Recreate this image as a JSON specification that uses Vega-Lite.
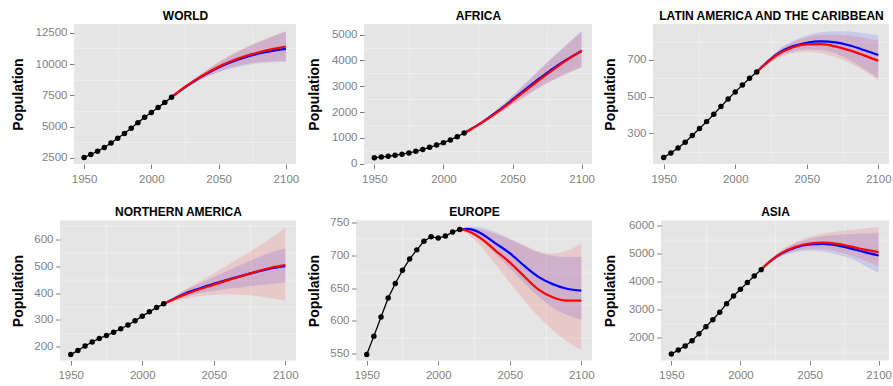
{
"$schema": "https://vega.github.io/schema/vega-lite/v6.json",
"background": "white",
"padding": {"left": 2, "top": 9, "right": 0, "bottom": 0},
"datasets": {
"obs": [
{"r":"WORLD","year":1950,"pop":2525},{"r":"WORLD","year":1955,"pop":2758},{"r":"WORLD","year":1960,"pop":3018},{"r":"WORLD","year":1965,"pop":3322},{"r":"WORLD","year":1970,"pop":3682},{"r":"WORLD","year":1975,"pop":4061},{"r":"WORLD","year":1980,"pop":4439},{"r":"WORLD","year":1985,"pop":4852},{"r":"WORLD","year":1990,"pop":5310},{"r":"WORLD","year":1995,"pop":5735},{"r":"WORLD","year":2000,"pop":6127},{"r":"WORLD","year":2005,"pop":6520},{"r":"WORLD","year":2010,"pop":6930},{"r":"WORLD","year":2015,"pop":7349},
{"r":"AFRICA","year":1950,"pop":229},{"r":"AFRICA","year":1955,"pop":254},{"r":"AFRICA","year":1960,"pop":285},{"r":"AFRICA","year":1965,"pop":322},{"r":"AFRICA","year":1970,"pop":366},{"r":"AFRICA","year":1975,"pop":416},{"r":"AFRICA","year":1980,"pop":478},{"r":"AFRICA","year":1985,"pop":550},{"r":"AFRICA","year":1990,"pop":632},{"r":"AFRICA","year":1995,"pop":720},{"r":"AFRICA","year":2000,"pop":814},{"r":"AFRICA","year":2005,"pop":920},{"r":"AFRICA","year":2010,"pop":1044},{"r":"AFRICA","year":2015,"pop":1186},
{"r":"LATIN","year":1950,"pop":169},{"r":"LATIN","year":1955,"pop":193},{"r":"LATIN","year":1960,"pop":220},{"r":"LATIN","year":1965,"pop":252},{"r":"LATIN","year":1970,"pop":288},{"r":"LATIN","year":1975,"pop":326},{"r":"LATIN","year":1980,"pop":364},{"r":"LATIN","year":1985,"pop":404},{"r":"LATIN","year":1990,"pop":446},{"r":"LATIN","year":1995,"pop":487},{"r":"LATIN","year":2000,"pop":526},{"r":"LATIN","year":2005,"pop":563},{"r":"LATIN","year":2010,"pop":600},{"r":"LATIN","year":2015,"pop":634},
{"r":"NA","year":1950,"pop":171},{"r":"NA","year":1955,"pop":186},{"r":"NA","year":1960,"pop":203},{"r":"NA","year":1965,"pop":218},{"r":"NA","year":1970,"pop":231},{"r":"NA","year":1975,"pop":242},{"r":"NA","year":1980,"pop":254},{"r":"NA","year":1985,"pop":267},{"r":"NA","year":1990,"pop":281},{"r":"NA","year":1995,"pop":297},{"r":"NA","year":2000,"pop":314},{"r":"NA","year":2005,"pop":330},{"r":"NA","year":2010,"pop":346},{"r":"NA","year":2015,"pop":360},
{"r":"EUROPE","year":1950,"pop":549},{"r":"EUROPE","year":1955,"pop":577},{"r":"EUROPE","year":1960,"pop":606},{"r":"EUROPE","year":1965,"pop":635},{"r":"EUROPE","year":1970,"pop":657},{"r":"EUROPE","year":1975,"pop":677},{"r":"EUROPE","year":1980,"pop":694},{"r":"EUROPE","year":1985,"pop":708},{"r":"EUROPE","year":1990,"pop":721},{"r":"EUROPE","year":1995,"pop":728},{"r":"EUROPE","year":2000,"pop":726},{"r":"EUROPE","year":2005,"pop":729},{"r":"EUROPE","year":2010,"pop":735},{"r":"EUROPE","year":2015,"pop":739},
{"r":"ASIA","year":1950,"pop":1394},{"r":"ASIA","year":1955,"pop":1542},{"r":"ASIA","year":1960,"pop":1687},{"r":"ASIA","year":1965,"pop":1874},{"r":"ASIA","year":1970,"pop":2120},{"r":"ASIA","year":1975,"pop":2378},{"r":"ASIA","year":1980,"pop":2626},{"r":"ASIA","year":1985,"pop":2897},{"r":"ASIA","year":1990,"pop":3202},{"r":"ASIA","year":1995,"pop":3475},{"r":"ASIA","year":2000,"pop":3714},{"r":"ASIA","year":2005,"pop":3955},{"r":"ASIA","year":2010,"pop":4190},{"r":"ASIA","year":2015,"pop":4420}
],
"proj": [
{"r":"WORLD","model":"B","year":2015,"med":7349,"lo":7349,"hi":7349},{"r":"WORLD","model":"B","year":2020,"med":7758,"lo":7715,"hi":7800},{"r":"WORLD","model":"B","year":2025,"med":8142,"lo":8055,"hi":8230},{"r":"WORLD","model":"B","year":2030,"med":8501,"lo":8365,"hi":8640},{"r":"WORLD","model":"B","year":2040,"med":9157,"lo":8900,"hi":9410},{"r":"WORLD","model":"B","year":2050,"med":9725,"lo":9335,"hi":10110},{"r":"WORLD","model":"B","year":2060,"med":10184,"lo":9670,"hi":10730},{"r":"WORLD","model":"B","year":2070,"med":10548,"lo":9905,"hi":11270},{"r":"WORLD","model":"B","year":2080,"med":10837,"lo":10055,"hi":11750},{"r":"WORLD","model":"B","year":2090,"med":11055,"lo":10140,"hi":12180},{"r":"WORLD","model":"B","year":2100,"med":11213,"lo":10170,"hi":12600},
{"r":"AFRICA","model":"B","year":2015,"med":1186,"lo":1186,"hi":1186},{"r":"AFRICA","model":"B","year":2020,"med":1340,"lo":1322,"hi":1358},{"r":"AFRICA","model":"B","year":2025,"med":1504,"lo":1470,"hi":1540},{"r":"AFRICA","model":"B","year":2030,"med":1679,"lo":1625,"hi":1735},{"r":"AFRICA","model":"B","year":2040,"med":2062,"lo":1960,"hi":2165},{"r":"AFRICA","model":"B","year":2050,"med":2478,"lo":2310,"hi":2645},{"r":"AFRICA","model":"B","year":2060,"med":2906,"lo":2655,"hi":3160},{"r":"AFRICA","model":"B","year":2070,"med":3322,"lo":2980,"hi":3680},{"r":"AFRICA","model":"B","year":2080,"med":3715,"lo":3270,"hi":4185},{"r":"AFRICA","model":"B","year":2090,"med":4060,"lo":3520,"hi":4670},{"r":"AFRICA","model":"B","year":2100,"med":4370,"lo":3745,"hi":5140},
{"r":"LATIN","model":"B","year":2015,"med":634,"lo":634,"hi":634},{"r":"LATIN","model":"B","year":2020,"med":672,"lo":664,"hi":680},{"r":"LATIN","model":"B","year":2025,"med":706,"lo":692,"hi":720},{"r":"LATIN","model":"B","year":2030,"med":735,"lo":716,"hi":754},{"r":"LATIN","model":"B","year":2040,"med":774,"lo":745,"hi":803},{"r":"LATIN","model":"B","year":2050,"med":794,"lo":757,"hi":834},{"r":"LATIN","model":"B","year":2060,"med":801,"lo":754,"hi":851},{"r":"LATIN","model":"B","year":2070,"med":796,"lo":735,"hi":857},{"r":"LATIN","model":"B","year":2080,"med":779,"lo":700,"hi":855},{"r":"LATIN","model":"B","year":2090,"med":754,"lo":652,"hi":846},{"r":"LATIN","model":"B","year":2100,"med":727,"lo":600,"hi":834},
{"r":"NA","model":"B","year":2015,"med":360,"lo":360,"hi":360},{"r":"NA","model":"B","year":2020,"med":373,"lo":369,"hi":377},{"r":"NA","model":"B","year":2025,"med":386,"lo":378,"hi":394},{"r":"NA","model":"B","year":2030,"med":398,"lo":386,"hi":410},{"r":"NA","model":"B","year":2040,"med":417,"lo":399,"hi":435},{"r":"NA","model":"B","year":2050,"med":434,"lo":408,"hi":460},{"r":"NA","model":"B","year":2060,"med":450,"lo":416,"hi":484},{"r":"NA","model":"B","year":2070,"med":465,"lo":422,"hi":508},{"r":"NA","model":"B","year":2080,"med":479,"lo":428,"hi":530},{"r":"NA","model":"B","year":2090,"med":492,"lo":434,"hi":552},{"r":"NA","model":"B","year":2100,"med":500,"lo":440,"hi":566},
{"r":"EUROPE","model":"B","year":2015,"med":739,"lo":739,"hi":739},{"r":"EUROPE","model":"B","year":2020,"med":740,"lo":737,"hi":742},{"r":"EUROPE","model":"B","year":2025,"med":738,"lo":731,"hi":743},{"r":"EUROPE","model":"B","year":2030,"med":733,"lo":723,"hi":742},{"r":"EUROPE","model":"B","year":2040,"med":718,"lo":702,"hi":735},{"r":"EUROPE","model":"B","year":2050,"med":703,"lo":680,"hi":725},{"r":"EUROPE","model":"B","year":2060,"med":684,"lo":658,"hi":714},{"r":"EUROPE","model":"B","year":2070,"med":667,"lo":637,"hi":704},{"r":"EUROPE","model":"B","year":2080,"med":656,"lo":620,"hi":699},{"r":"EUROPE","model":"B","year":2090,"med":649,"lo":609,"hi":697},{"r":"EUROPE","model":"B","year":2100,"med":646,"lo":602,"hi":697},
{"r":"ASIA","model":"B","year":2015,"med":4420,"lo":4420,"hi":4420},{"r":"ASIA","model":"B","year":2020,"med":4655,"lo":4625,"hi":4685},{"r":"ASIA","model":"B","year":2025,"med":4850,"lo":4780,"hi":4915},{"r":"ASIA","model":"B","year":2030,"med":5005,"lo":4900,"hi":5100},{"r":"ASIA","model":"B","year":2040,"med":5215,"lo":5050,"hi":5365},{"r":"ASIA","model":"B","year":2050,"med":5320,"lo":5100,"hi":5525},{"r":"ASIA","model":"B","year":2060,"med":5340,"lo":5070,"hi":5620},{"r":"ASIA","model":"B","year":2070,"med":5285,"lo":4965,"hi":5670},{"r":"ASIA","model":"B","year":2080,"med":5175,"lo":4815,"hi":5695},{"r":"ASIA","model":"B","year":2090,"med":5045,"lo":4560,"hi":5715},{"r":"ASIA","model":"B","year":2100,"med":4925,"lo":4295,"hi":5735},
{"r":"WORLD","model":"A","year":2015,"med":7349,"lo":7349,"hi":7349},{"r":"WORLD","model":"A","year":2020,"med":7765,"lo":7720,"hi":7810},{"r":"WORLD","model":"A","year":2025,"med":8160,"lo":8070,"hi":8250},{"r":"WORLD","model":"A","year":2030,"med":8530,"lo":8390,"hi":8670},{"r":"WORLD","model":"A","year":2040,"med":9205,"lo":8940,"hi":9460},{"r":"WORLD","model":"A","year":2050,"med":9780,"lo":9390,"hi":10180},{"r":"WORLD","model":"A","year":2060,"med":10255,"lo":9740,"hi":10800},{"r":"WORLD","model":"A","year":2070,"med":10635,"lo":9985,"hi":11340},{"r":"WORLD","model":"A","year":2080,"med":10940,"lo":10145,"hi":11820},{"r":"WORLD","model":"A","year":2090,"med":11190,"lo":10230,"hi":12250},{"r":"WORLD","model":"A","year":2100,"med":11400,"lo":10260,"hi":12650},
{"r":"AFRICA","model":"A","year":2015,"med":1186,"lo":1186,"hi":1186},{"r":"AFRICA","model":"A","year":2020,"med":1335,"lo":1318,"hi":1352},{"r":"AFRICA","model":"A","year":2025,"med":1495,"lo":1462,"hi":1530},{"r":"AFRICA","model":"A","year":2030,"med":1665,"lo":1612,"hi":1720},{"r":"AFRICA","model":"A","year":2040,"med":2035,"lo":1938,"hi":2140},{"r":"AFRICA","model":"A","year":2050,"med":2440,"lo":2282,"hi":2610},{"r":"AFRICA","model":"A","year":2060,"med":2860,"lo":2625,"hi":3120},{"r":"AFRICA","model":"A","year":2070,"med":3270,"lo":2950,"hi":3640},{"r":"AFRICA","model":"A","year":2080,"med":3665,"lo":3240,"hi":4145},{"r":"AFRICA","model":"A","year":2090,"med":4040,"lo":3490,"hi":4630},{"r":"AFRICA","model":"A","year":2100,"med":4385,"lo":3715,"hi":5100},
{"r":"LATIN","model":"A","year":2015,"med":634,"lo":634,"hi":634},{"r":"LATIN","model":"A","year":2020,"med":670,"lo":662,"hi":678},{"r":"LATIN","model":"A","year":2025,"med":703,"lo":688,"hi":717},{"r":"LATIN","model":"A","year":2030,"med":731,"lo":710,"hi":750},{"r":"LATIN","model":"A","year":2040,"med":768,"lo":737,"hi":796},{"r":"LATIN","model":"A","year":2050,"med":785,"lo":745,"hi":823},{"r":"LATIN","model":"A","year":2060,"med":786,"lo":737,"hi":836},{"r":"LATIN","model":"A","year":2070,"med":774,"lo":716,"hi":838},{"r":"LATIN","model":"A","year":2080,"med":752,"lo":683,"hi":832},{"r":"LATIN","model":"A","year":2090,"med":725,"lo":640,"hi":820},{"r":"LATIN","model":"A","year":2100,"med":696,"lo":588,"hi":805},
{"r":"NA","model":"A","year":2015,"med":360,"lo":360,"hi":360},{"r":"NA","model":"A","year":2020,"med":372,"lo":366,"hi":378},{"r":"NA","model":"A","year":2025,"med":384,"lo":373,"hi":396},{"r":"NA","model":"A","year":2030,"med":395,"lo":379,"hi":412},{"r":"NA","model":"A","year":2040,"med":414,"lo":388,"hi":443},{"r":"NA","model":"A","year":2050,"med":431,"lo":394,"hi":473},{"r":"NA","model":"A","year":2060,"med":448,"lo":396,"hi":505},{"r":"NA","model":"A","year":2070,"med":464,"lo":394,"hi":537},{"r":"NA","model":"A","year":2080,"med":480,"lo":389,"hi":570},{"r":"NA","model":"A","year":2090,"med":494,"lo":381,"hi":605},{"r":"NA","model":"A","year":2100,"med":505,"lo":371,"hi":643},
{"r":"EUROPE","model":"A","year":2015,"med":739,"lo":739,"hi":739},{"r":"EUROPE","model":"A","year":2020,"med":737,"lo":733,"hi":741},{"r":"EUROPE","model":"A","year":2025,"med":732,"lo":724,"hi":741},{"r":"EUROPE","model":"A","year":2030,"med":725,"lo":713,"hi":739},{"r":"EUROPE","model":"A","year":2040,"med":707,"lo":686,"hi":732},{"r":"EUROPE","model":"A","year":2050,"med":689,"lo":658,"hi":724},{"r":"EUROPE","model":"A","year":2060,"med":668,"lo":632,"hi":715},{"r":"EUROPE","model":"A","year":2070,"med":648,"lo":607,"hi":706},{"r":"EUROPE","model":"A","year":2080,"med":636,"lo":586,"hi":702},{"r":"EUROPE","model":"A","year":2090,"med":631,"lo":569,"hi":707},{"r":"EUROPE","model":"A","year":2100,"med":631,"lo":556,"hi":717},
{"r":"ASIA","model":"A","year":2015,"med":4420,"lo":4420,"hi":4420},{"r":"ASIA","model":"A","year":2020,"med":4660,"lo":4630,"hi":4690},{"r":"ASIA","model":"A","year":2025,"med":4860,"lo":4790,"hi":4930},{"r":"ASIA","model":"A","year":2030,"med":5020,"lo":4920,"hi":5125},{"r":"ASIA","model":"A","year":2040,"med":5240,"lo":5090,"hi":5410},{"r":"ASIA","model":"A","year":2050,"med":5355,"lo":5160,"hi":5590},{"r":"ASIA","model":"A","year":2060,"med":5385,"lo":5150,"hi":5710},{"r":"ASIA","model":"A","year":2070,"med":5340,"lo":5065,"hi":5790},{"r":"ASIA","model":"A","year":2080,"med":5245,"lo":4925,"hi":5845},{"r":"ASIA","model":"A","year":2090,"med":5135,"lo":4745,"hi":5895},{"r":"ASIA","model":"A","year":2100,"med":5050,"lo":4540,"hi":5945}
]
},
"columns": 1,
"align": "none",
"spacing": {"row": 20.5, "column": 0},
"concat": [
{"hconcat": [
{"width": 1, "height": 140, "view": {"fill": "white", "stroke": null}, "data": {"values": []}, "mark": {"type": "point", "opacity": 0}, "encoding": {}},
{"width": 222, "height": 140,
 "resolve": {"axis": {"x": "independent", "y": "independent"}},
 "layer": [
  {"data": {"name": "proj"}, "transform": [{"filter": "datum.r === 'WORLD'"}],
   "mark": {"type": "area", "interpolate": "monotone", "fillOpacity": 0.12},
   "encoding": {
    "x": {"field": "year", "type": "quantitative", "scale": {"domain": [1942.5, 2107.5], "nice": false, "zero": false}, "axis": {"orient": "top", "values": [1975, 2025, 2075], "labels": false, "ticks": false, "domain": false, "grid": true, "gridColor": "#F4F4F4", "gridWidth": 0.6, "minExtent": 0, "maxExtent": 0, "title": "WORLD", "titleFontSize": 12, "titleFontWeight": "bold", "titleColor": "#000000", "titlePadding": 2}},
    "y": {"field": "lo", "type": "quantitative", "scale": {"domain": [2000, 13200], "nice": false, "zero": false}, "axis": {"orient": "right", "values": [3750, 6250, 8750, 11250], "labels": false, "ticks": false, "domain": false, "grid": true, "gridColor": "#F4F4F4", "gridWidth": 0.6, "minExtent": 0, "maxExtent": 0, "title": null}},
    "y2": {"field": "hi"},
    "fill": {"field": "model", "type": "nominal", "scale": {"domain": ["A", "B"], "range": ["#FF0000", "#0000FF"]}, "legend": null}}},
  {"data": {"name": "proj"}, "transform": [{"filter": "datum.r === 'WORLD'"}],
   "mark": {"type": "line", "interpolate": "monotone", "strokeWidth": 2.2},
   "encoding": {
    "x": {"field": "year", "type": "quantitative", "scale": {"domain": [1942.5, 2107.5], "nice": false, "zero": false}, "axis": {"orient": "bottom", "values": [1950, 2000, 2050, 2100], "format": "d", "title": null}},
    "y": {"field": "med", "type": "quantitative", "scale": {"domain": [2000, 13200], "nice": false, "zero": false}, "axis": {"orient": "left", "values": [2500, 5000, 7500, 10000, 12500], "format": "d", "title": "Population", "minExtent": 45, "maxExtent": 45}},
    "stroke": {"field": "model", "type": "nominal", "scale": {"domain": ["A", "B"], "range": ["#FF0000", "#0000FF"]}, "legend": null}}},
  {"data": {"name": "obs"}, "transform": [{"filter": "datum.r === 'WORLD'"}],
   "mark": {"type": "line", "color": "black", "strokeWidth": 1.3},
   "encoding": {"x": {"field": "year", "type": "quantitative", "axis": null}, "y": {"field": "pop", "type": "quantitative", "axis": null}}},
  {"data": {"name": "obs"}, "transform": [{"filter": "datum.r === 'WORLD'"}],
   "mark": {"type": "circle", "color": "black", "size": 30, "opacity": 1},
   "encoding": {"x": {"field": "year", "type": "quantitative", "axis": null}, "y": {"field": "pop", "type": "quantitative", "axis": null}}}
 ]},
{"width": 228, "height": 140,
 "resolve": {"axis": {"x": "independent", "y": "independent"}},
 "layer": [
  {"data": {"name": "proj"}, "transform": [{"filter": "datum.r === 'AFRICA'"}],
   "mark": {"type": "area", "interpolate": "monotone", "fillOpacity": 0.12},
   "encoding": {
    "x": {"field": "year", "type": "quantitative", "scale": {"domain": [1942.5, 2107.5], "nice": false, "zero": false}, "axis": {"orient": "top", "values": [1975, 2025, 2075], "labels": false, "ticks": false, "domain": false, "grid": true, "gridColor": "#F4F4F4", "gridWidth": 0.6, "minExtent": 0, "maxExtent": 0, "title": "AFRICA", "titleFontSize": 12, "titleFontWeight": "bold", "titleColor": "#000000", "titlePadding": 2}},
    "y": {"field": "lo", "type": "quantitative", "scale": {"domain": [-15, 5415], "nice": false, "zero": false}, "axis": {"orient": "right", "values": [500, 1500, 2500, 3500, 4500], "labels": false, "ticks": false, "domain": false, "grid": true, "gridColor": "#F4F4F4", "gridWidth": 0.6, "minExtent": 0, "maxExtent": 0, "title": null}},
    "y2": {"field": "hi"},
    "fill": {"field": "model", "type": "nominal", "scale": {"domain": ["A", "B"], "range": ["#FF0000", "#0000FF"]}, "legend": null}}},
  {"data": {"name": "proj"}, "transform": [{"filter": "datum.r === 'AFRICA'"}],
   "mark": {"type": "line", "interpolate": "monotone", "strokeWidth": 2.2},
   "encoding": {
    "x": {"field": "year", "type": "quantitative", "scale": {"domain": [1942.5, 2107.5], "nice": false, "zero": false}, "axis": {"orient": "bottom", "values": [1950, 2000, 2050, 2100], "format": "d", "title": null}},
    "y": {"field": "med", "type": "quantitative", "scale": {"domain": [-15, 5415], "nice": false, "zero": false}, "axis": {"orient": "left", "values": [0, 1000, 2000, 3000, 4000, 5000], "format": "d", "title": "Population", "minExtent": 39, "maxExtent": 39}},
    "stroke": {"field": "model", "type": "nominal", "scale": {"domain": ["A", "B"], "range": ["#FF0000", "#0000FF"]}, "legend": null}}},
  {"data": {"name": "obs"}, "transform": [{"filter": "datum.r === 'AFRICA'"}],
   "mark": {"type": "line", "color": "black", "strokeWidth": 1.3},
   "encoding": {"x": {"field": "year", "type": "quantitative", "axis": null}, "y": {"field": "pop", "type": "quantitative", "axis": null}}},
  {"data": {"name": "obs"}, "transform": [{"filter": "datum.r === 'AFRICA'"}],
   "mark": {"type": "circle", "color": "black", "size": 30, "opacity": 1},
   "encoding": {"x": {"field": "year", "type": "quantitative", "axis": null}, "y": {"field": "pop", "type": "quantitative", "axis": null}}}
 ]},
{"width": 236, "height": 140,
 "resolve": {"axis": {"x": "independent", "y": "independent"}},
 "layer": [
  {"data": {"name": "proj"}, "transform": [{"filter": "datum.r === 'LATIN'"}],
   "mark": {"type": "area", "interpolate": "monotone", "fillOpacity": 0.12},
   "encoding": {
    "x": {"field": "year", "type": "quantitative", "scale": {"domain": [1942.5, 2107.5], "nice": false, "zero": false}, "axis": {"orient": "top", "values": [1975, 2025, 2075], "labels": false, "ticks": false, "domain": false, "grid": true, "gridColor": "#F4F4F4", "gridWidth": 0.6, "minExtent": 0, "maxExtent": 0, "title": "LATIN AMERICA AND THE CARIBBEAN", "titleFontSize": 12, "titleFontWeight": "bold", "titleColor": "#000000", "titlePadding": 2}},
    "y": {"field": "lo", "type": "quantitative", "scale": {"domain": [133, 896], "nice": false, "zero": false}, "axis": {"orient": "right", "values": [200, 400, 600, 800], "labels": false, "ticks": false, "domain": false, "grid": true, "gridColor": "#F4F4F4", "gridWidth": 0.6, "minExtent": 0, "maxExtent": 0, "title": null}},
    "y2": {"field": "hi"},
    "fill": {"field": "model", "type": "nominal", "scale": {"domain": ["A", "B"], "range": ["#FF0000", "#0000FF"]}, "legend": null}}},
  {"data": {"name": "proj"}, "transform": [{"filter": "datum.r === 'LATIN'"}],
   "mark": {"type": "line", "interpolate": "monotone", "strokeWidth": 2.2},
   "encoding": {
    "x": {"field": "year", "type": "quantitative", "scale": {"domain": [1942.5, 2107.5], "nice": false, "zero": false}, "axis": {"orient": "bottom", "values": [1950, 2000, 2050, 2100], "format": "d", "title": null}},
    "y": {"field": "med", "type": "quantitative", "scale": {"domain": [133, 896], "nice": false, "zero": false}, "axis": {"orient": "left", "values": [300, 500, 700], "format": "d", "title": "Population", "minExtent": 32, "maxExtent": 32}},
    "stroke": {"field": "model", "type": "nominal", "scale": {"domain": ["A", "B"], "range": ["#FF0000", "#0000FF"]}, "legend": null}}},
  {"data": {"name": "obs"}, "transform": [{"filter": "datum.r === 'LATIN'"}],
   "mark": {"type": "line", "color": "black", "strokeWidth": 1.3},
   "encoding": {"x": {"field": "year", "type": "quantitative", "axis": null}, "y": {"field": "pop", "type": "quantitative", "axis": null}}},
  {"data": {"name": "obs"}, "transform": [{"filter": "datum.r === 'LATIN'"}],
   "mark": {"type": "circle", "color": "black", "size": 30, "opacity": 1},
   "encoding": {"x": {"field": "year", "type": "quantitative", "axis": null}, "y": {"field": "pop", "type": "quantitative", "axis": null}}}
 ]}
], "spacing": 8},
{"hconcat": [
{"width": 1, "height": 140, "view": {"fill": "white", "stroke": null}, "data": {"values": []}, "mark": {"type": "point", "opacity": 0}, "encoding": {}},
{"width": 236, "height": 140,
 "resolve": {"axis": {"x": "independent", "y": "independent"}},
 "layer": [
  {"data": {"name": "proj"}, "transform": [{"filter": "datum.r === 'NA'"}],
   "mark": {"type": "area", "interpolate": "monotone", "fillOpacity": 0.12},
   "encoding": {
    "x": {"field": "year", "type": "quantitative", "scale": {"domain": [1942.5, 2107.5], "nice": false, "zero": false}, "axis": {"orient": "top", "values": [1975, 2025, 2075], "labels": false, "ticks": false, "domain": false, "grid": true, "gridColor": "#F4F4F4", "gridWidth": 0.6, "minExtent": 0, "maxExtent": 0, "title": "NORTHERN AMERICA", "titleFontSize": 12, "titleFontWeight": "bold", "titleColor": "#000000", "titlePadding": 2}},
    "y": {"field": "lo", "type": "quantitative", "scale": {"domain": [149, 670], "nice": false, "zero": false}, "axis": {"orient": "right", "values": [150, 250, 350, 450, 550, 650], "labels": false, "ticks": false, "domain": false, "grid": true, "gridColor": "#F4F4F4", "gridWidth": 0.6, "minExtent": 0, "maxExtent": 0, "title": null}},
    "y2": {"field": "hi"},
    "fill": {"field": "model", "type": "nominal", "scale": {"domain": ["A", "B"], "range": ["#FF0000", "#0000FF"]}, "legend": null}}},
  {"data": {"name": "proj"}, "transform": [{"filter": "datum.r === 'NA'"}],
   "mark": {"type": "line", "interpolate": "monotone", "strokeWidth": 2.2},
   "encoding": {
    "x": {"field": "year", "type": "quantitative", "scale": {"domain": [1942.5, 2107.5], "nice": false, "zero": false}, "axis": {"orient": "bottom", "values": [1950, 2000, 2050, 2100], "format": "d", "title": null}},
    "y": {"field": "med", "type": "quantitative", "scale": {"domain": [149, 670], "nice": false, "zero": false}, "axis": {"orient": "left", "values": [200, 300, 400, 500, 600], "format": "d", "title": "Population", "minExtent": 31, "maxExtent": 31}},
    "stroke": {"field": "model", "type": "nominal", "scale": {"domain": ["A", "B"], "range": ["#FF0000", "#0000FF"]}, "legend": null}}},
  {"data": {"name": "obs"}, "transform": [{"filter": "datum.r === 'NA'"}],
   "mark": {"type": "line", "color": "black", "strokeWidth": 1.3},
   "encoding": {"x": {"field": "year", "type": "quantitative", "axis": null}, "y": {"field": "pop", "type": "quantitative", "axis": null}}},
  {"data": {"name": "obs"}, "transform": [{"filter": "datum.r === 'NA'"}],
   "mark": {"type": "circle", "color": "black", "size": 30, "opacity": 1},
   "encoding": {"x": {"field": "year", "type": "quantitative", "axis": null}, "y": {"field": "pop", "type": "quantitative", "axis": null}}}
 ]},
{"width": 236, "height": 140,
 "resolve": {"axis": {"x": "independent", "y": "independent"}},
 "layer": [
  {"data": {"name": "proj"}, "transform": [{"filter": "datum.r === 'EUROPE'"}],
   "mark": {"type": "area", "interpolate": "monotone", "fillOpacity": 0.12},
   "encoding": {
    "x": {"field": "year", "type": "quantitative", "scale": {"domain": [1942.5, 2107.5], "nice": false, "zero": false}, "axis": {"orient": "top", "values": [1975, 2025, 2075], "labels": false, "ticks": false, "domain": false, "grid": true, "gridColor": "#F4F4F4", "gridWidth": 0.6, "minExtent": 0, "maxExtent": 0, "title": "EUROPE", "titleFontSize": 12, "titleFontWeight": "bold", "titleColor": "#000000", "titlePadding": 2}},
    "y": {"field": "lo", "type": "quantitative", "scale": {"domain": [540, 752.6], "nice": false, "zero": false}, "axis": {"orient": "right", "values": [575, 625, 675, 725], "labels": false, "ticks": false, "domain": false, "grid": true, "gridColor": "#F4F4F4", "gridWidth": 0.6, "minExtent": 0, "maxExtent": 0, "title": null}},
    "y2": {"field": "hi"},
    "fill": {"field": "model", "type": "nominal", "scale": {"domain": ["A", "B"], "range": ["#FF0000", "#0000FF"]}, "legend": null}}},
  {"data": {"name": "proj"}, "transform": [{"filter": "datum.r === 'EUROPE'"}],
   "mark": {"type": "line", "interpolate": "monotone", "strokeWidth": 2.2},
   "encoding": {
    "x": {"field": "year", "type": "quantitative", "scale": {"domain": [1942.5, 2107.5], "nice": false, "zero": false}, "axis": {"orient": "bottom", "values": [1950, 2000, 2050, 2100], "format": "d", "title": null}},
    "y": {"field": "med", "type": "quantitative", "scale": {"domain": [540, 752.6], "nice": false, "zero": false}, "axis": {"orient": "left", "values": [550, 600, 650, 700, 750], "format": "d", "title": "Population", "minExtent": 31, "maxExtent": 31}},
    "stroke": {"field": "model", "type": "nominal", "scale": {"domain": ["A", "B"], "range": ["#FF0000", "#0000FF"]}, "legend": null}}},
  {"data": {"name": "obs"}, "transform": [{"filter": "datum.r === 'EUROPE'"}],
   "mark": {"type": "line", "color": "black", "strokeWidth": 1.3},
   "encoding": {"x": {"field": "year", "type": "quantitative", "axis": null}, "y": {"field": "pop", "type": "quantitative", "axis": null}}},
  {"data": {"name": "obs"}, "transform": [{"filter": "datum.r === 'EUROPE'"}],
   "mark": {"type": "circle", "color": "black", "size": 30, "opacity": 1},
   "encoding": {"x": {"field": "year", "type": "quantitative", "axis": null}, "y": {"field": "pop", "type": "quantitative", "axis": null}}}
 ]},
{"width": 228, "height": 140,
 "resolve": {"axis": {"x": "independent", "y": "independent"}},
 "layer": [
  {"data": {"name": "proj"}, "transform": [{"filter": "datum.r === 'ASIA'"}],
   "mark": {"type": "area", "interpolate": "monotone", "fillOpacity": 0.12},
   "encoding": {
    "x": {"field": "year", "type": "quantitative", "scale": {"domain": [1942.5, 2107.5], "nice": false, "zero": false}, "axis": {"orient": "top", "values": [1975, 2025, 2075], "labels": false, "ticks": false, "domain": false, "grid": true, "gridColor": "#F4F4F4", "gridWidth": 0.6, "minExtent": 0, "maxExtent": 0, "title": "ASIA", "titleFontSize": 12, "titleFontWeight": "bold", "titleColor": "#000000", "titlePadding": 2}},
    "y": {"field": "lo", "type": "quantitative", "scale": {"domain": [1165, 6180], "nice": false, "zero": false}, "axis": {"orient": "right", "values": [1500, 2500, 3500, 4500, 5500], "labels": false, "ticks": false, "domain": false, "grid": true, "gridColor": "#F4F4F4", "gridWidth": 0.6, "minExtent": 0, "maxExtent": 0, "title": null}},
    "y2": {"field": "hi"},
    "fill": {"field": "model", "type": "nominal", "scale": {"domain": ["A", "B"], "range": ["#FF0000", "#0000FF"]}, "legend": null}}},
  {"data": {"name": "proj"}, "transform": [{"filter": "datum.r === 'ASIA'"}],
   "mark": {"type": "line", "interpolate": "monotone", "strokeWidth": 2.2},
   "encoding": {
    "x": {"field": "year", "type": "quantitative", "scale": {"domain": [1942.5, 2107.5], "nice": false, "zero": false}, "axis": {"orient": "bottom", "values": [1950, 2000, 2050, 2100], "format": "d", "title": null}},
    "y": {"field": "med", "type": "quantitative", "scale": {"domain": [1165, 6180], "nice": false, "zero": false}, "axis": {"orient": "left", "values": [2000, 3000, 4000, 5000, 6000], "format": "d", "title": "Population", "minExtent": 39.5, "maxExtent": 39.5}},
    "stroke": {"field": "model", "type": "nominal", "scale": {"domain": ["A", "B"], "range": ["#FF0000", "#0000FF"]}, "legend": null}}},
  {"data": {"name": "obs"}, "transform": [{"filter": "datum.r === 'ASIA'"}],
   "mark": {"type": "line", "color": "black", "strokeWidth": 1.3},
   "encoding": {"x": {"field": "year", "type": "quantitative", "axis": null}, "y": {"field": "pop", "type": "quantitative", "axis": null}}},
  {"data": {"name": "obs"}, "transform": [{"filter": "datum.r === 'ASIA'"}],
   "mark": {"type": "circle", "color": "black", "size": 30, "opacity": 1},
   "encoding": {"x": {"field": "year", "type": "quantitative", "axis": null}, "y": {"field": "pop", "type": "quantitative", "axis": null}}}
 ]}
], "spacing": 8}
],
"config": {
 "font": "Liberation Sans",
 "view": {"fill": "#E5E5E5", "stroke": null},
 "axis": {"domain": false, "grid": true, "gridColor": "#FFFFFF", "gridWidth": 1.2, "tickColor": "#7F7F7F", "tickSize": 4.5, "tickWidth": 1, "labelColor": "#7F7F7F", "labelFont": "Liberation Sans", "labelFontSize": 11.5, "labelFlush": false, "titleFont": "Liberation Sans", "titleFontSize": 14, "titleFontWeight": "bold", "titleColor": "#000000"},
 "axisX": {"labelPadding": 4.5},
 "axisY": {"labelPadding": 2.5, "titlePadding": 4}
}
}
